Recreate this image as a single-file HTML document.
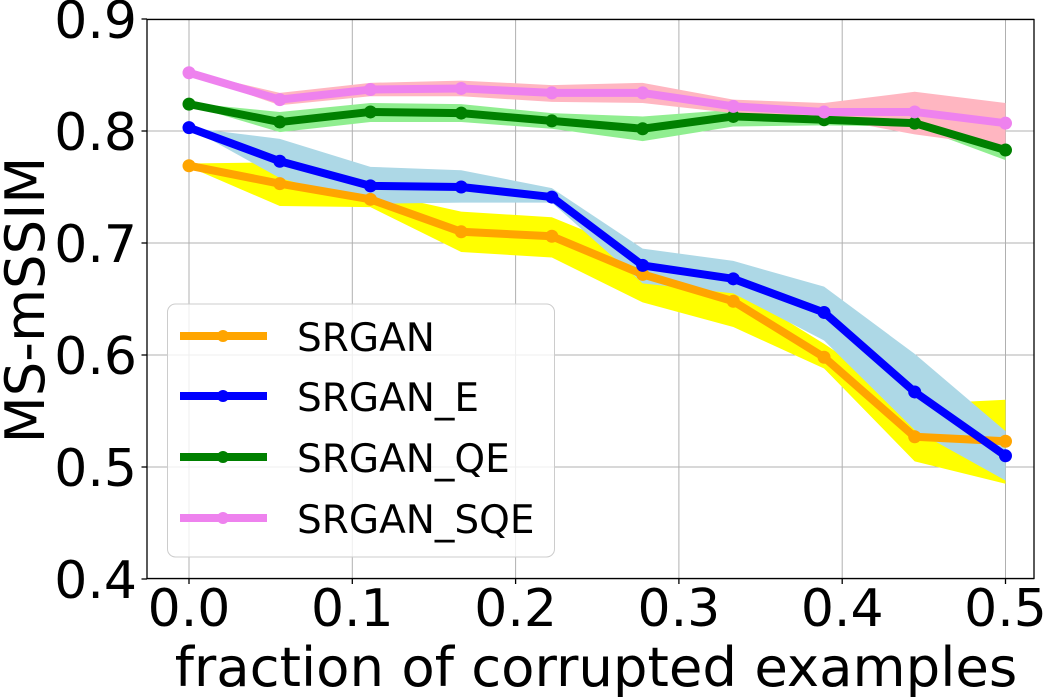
<!DOCTYPE html>
<html><head><meta charset="utf-8"><style>
html,body{margin:0;padding:0;background:#fff;}
svg{display:block;font-family:"DejaVu Sans","Liberation Sans",sans-serif;}
</style></head><body>
<svg id="chart" width="1047" height="697" viewBox="0 0 1047 697" xmlns="http://www.w3.org/2000/svg">
<g id="grid"></g>
<g id="bands"></g>
<g id="lines"></g>
<rect x="147" y="19.5" width="887" height="559" fill="none" stroke="#000" stroke-width="1.3"/>
<g id="ticks"></g>
<text x="596" y="686" font-size="54.5" text-anchor="middle">fraction of corrupted examples</text>
<text transform="translate(44,300) rotate(-90)" font-size="54.5" text-anchor="middle">MS-mSSIM</text>
<g id="legend">
<rect x="167.5" y="304" width="387" height="253" rx="8" fill="#fff" fill-opacity="0.8" stroke="#ccc" stroke-width="1"/>
</g>
</svg>
<script>
const xs = [0, 0.0556, 0.1111, 0.1667, 0.2222, 0.2778, 0.3333, 0.3889, 0.4444, 0.5];
const seriesNames = ["SRGAN", "SRGAN_E", "SRGAN_QE", "SRGAN_SQE"];
const srgan = [0.769, 0.753, 0.739, 0.710, 0.706, 0.672, 0.648, 0.598, 0.527, 0.523];
const srganLo = [0.768, 0.733, 0.732, 0.692, 0.687, 0.647, 0.625, 0.588, 0.505, 0.485];
const srganHi = [0.771, 0.772, 0.746, 0.728, 0.723, 0.690, 0.660, 0.610, 0.556, 0.560];
const srganE = [0.803, 0.773, 0.751, 0.750, 0.741, 0.680, 0.668, 0.638, 0.567, 0.510];
const srganELo = [0.803, 0.758, 0.735, 0.736, 0.736, 0.664, 0.655, 0.613, 0.533, 0.488];
const srganEHi = [0.803, 0.793, 0.768, 0.765, 0.749, 0.695, 0.684, 0.661, 0.601, 0.532];
const srganQE = [0.824, 0.808, 0.817, 0.816, 0.809, 0.802, 0.813, 0.810, 0.807, 0.783];
const srganQELo = [0.823, 0.799, 0.808, 0.808, 0.802, 0.791, 0.804, 0.805, 0.804, 0.774];
const srganQEHi = [0.825, 0.817, 0.825, 0.824, 0.816, 0.813, 0.819, 0.815, 0.812, 0.786];
const srganSQE = [0.852, 0.828, 0.837, 0.838, 0.834, 0.834, 0.822, 0.817, 0.817, 0.807];
const srganSQELo = [0.851, 0.823, 0.831, 0.831, 0.826, 0.825, 0.816, 0.812, 0.797, 0.786];
const srganSQEHi = [0.853, 0.834, 0.843, 0.845, 0.841, 0.843, 0.828, 0.825, 0.835, 0.825];
const xTicks = ["0.0", "0.1", "0.2", "0.3", "0.4", "0.5"];
const yTicks = ["0.4", "0.5", "0.6", "0.7", "0.8", "0.9"];

const NS = "http://www.w3.org/2000/svg";
function X(v){ return 189 + v * 1633; }
function Y(v){ return 131 + (0.8 - v) * 1120; }
function mk(tag, attrs, parent){
  const e = document.createElementNS(NS, tag);
  for (const k in attrs) e.setAttribute(k, attrs[k]);
  parent.appendChild(e);
  return e;
}
const grid = document.getElementById('grid');
const ticks = document.getElementById('ticks');
xTicks.forEach(t => {
  const x = X(parseFloat(t));
  const gl = mk('line', {x1:x, x2:x, y1:19.5, y2:578.5, stroke:'#b0b0b0', 'stroke-width':1}, grid);
  
  
  const tk = mk('line', {x1:x, x2:x, y1:578.5, y2:584, stroke:'#000', 'stroke-width':1.3}, ticks);
  
  
  const tx = mk('text', {x:x, y:626, 'font-size':52, 'text-anchor':'middle'}, ticks);
  tx.textContent = t;
  
  
});
yTicks.forEach(t => {
  const y = Y(parseFloat(t));
  const gl = mk('line', {x1:147, x2:1034, y1:y, y2:y, stroke:'#b0b0b0', 'stroke-width':1}, grid);
  
  
  const tk = mk('line', {x1:141.5, x2:147, y1:y, y2:y, stroke:'#000', 'stroke-width':1.3}, ticks);
  
  
  const tx = mk('text', {x:137, y:y+19, 'font-size':52, 'text-anchor':'end'}, ticks);
  tx.textContent = t;
  
  
});
const series = [
  {vals:srgan, lo:srganLo, hi:srganHi, line:'#ffa500', fill:'#ffff00', name:'srgan'},
  {vals:srganE, lo:srganELo, hi:srganEHi, line:'#0000ff', fill:'#add8e6', name:'srgan-e'},
  {vals:srganQE, lo:srganQELo, hi:srganQEHi, line:'#008000', fill:'#90ee90', name:'srgan-qe'},
  {vals:srganSQE, lo:srganSQELo, hi:srganSQEHi, line:'#ee82ee', fill:'#ffb6c1', name:'srgan-sqe'}
];
const bands = document.getElementById('bands');
const lines = document.getElementById('lines');
series.forEach(s => {
  let pts = xs.map((x,i) => X(x)+','+Y(s.hi[i]));
  pts = pts.concat(xs.map((x,i) => X(x)+','+Y(s.lo[i])).reverse());
  const p = mk('polygon', {points:pts.join(' '), fill:s.fill}, bands);
  
  
});
series.forEach(s => {
  const pl = mk('polyline', {points:xs.map((x,i)=>X(x)+','+Y(s.vals[i])).join(' '), fill:'none', stroke:s.line, 'stroke-width':8, 'stroke-linejoin':'round'}, lines);
  
  
  xs.forEach((x,i) => {
    const c = mk('circle', {cx:X(x), cy:Y(s.vals[i]), r:6.5, fill:s.line}, lines);
    
    
  });
});
const legend = document.getElementById('legend');
const ly = [336, 396, 457, 518];
series.forEach((s,i) => {
  const l = mk('line', {x1:180, x2:267, y1:ly[i], y2:ly[i], stroke:s.line, 'stroke-width':8}, legend);
  
  
  const c = mk('circle', {cx:223, cy:ly[i], r:6, fill:s.line}, legend);
  
  
  const t = mk('text', {x:297, y:ly[i]+15, 'font-size':39}, legend);
  t.textContent = seriesNames[i];
  
  
});
</script>
</body></html>
